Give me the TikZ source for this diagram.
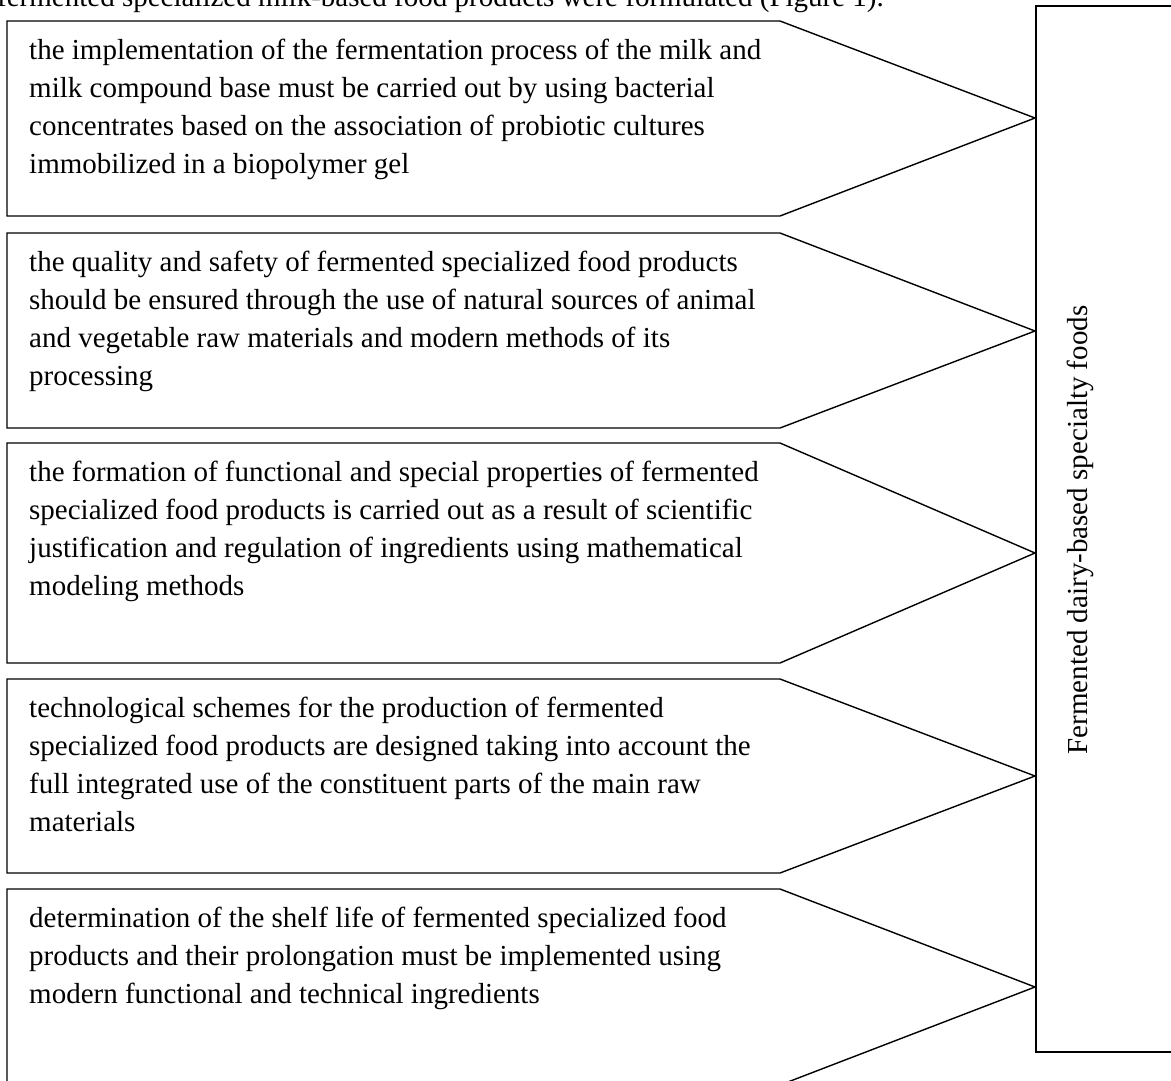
\documentclass[tikz,border=0pt]{standalone}
\usepackage{fontspec}
\setmainfont{Liberation Serif}
\begin{document}
\begin{tikzpicture}[x=1pt,y=-1pt,
  outline/.style={draw=black,line width=1.4pt,line join=miter},
  bodytext/.style={anchor=north west,inner sep=0pt,align=left,
    font=\fontsize{29}{38}\selectfont},
  sidetext/.style={anchor=base,inner sep=0pt,rotate=90,
    font=\fontsize{29}{38}\selectfont}]
\useasboundingbox (0,0) rectangle (1171,1080);
% header line (cut by the top edge)
\node[anchor=base west,inner sep=0pt,font=\fontsize{29}{38}\selectfont] (head) at (-3,6)
  {fermented specialized milk-based food products were formulated (Figure 1).};
% right box
\draw[outline] (1036,6) rectangle (1180,1052);
\node[sidetext] (side) at (1087,530) {Fermented dairy-based specialty foods};
% arrow shapes
\foreach \t/\m/\b [count=\i] in {21/118/216, 233/331/428, 443/553/663, 679/776/873, 889/987/1085}{
  \draw[outline] (7,\t) -- (780,\t) -- (1035,\m) -- (780,\b) -- (7,\b) -- cycle;
}
\node[bodytext] (t1) at (29,39) {the implementation of the fermentation process of the milk and\\
milk compound base must be carried out by using bacterial\\
concentrates based on the association of probiotic cultures\\
immobilized in a biopolymer gel};
\node[bodytext] (t2) at (29,251) {the quality and safety of fermented specialized food products\\
should be ensured through the use of natural sources of animal\\
and vegetable raw materials and modern methods of its\\
processing};
\node[bodytext] (t3) at (29,461) {the formation of functional and special properties of fermented\\
specialized food products is carried out as a result of scientific\\
justification and regulation of ingredients using mathematical\\
modeling methods};
\node[bodytext] (t4) at (29,697) {technological schemes for the production of fermented\\
specialized food products are designed taking into account the\\
full integrated use of the constituent parts of the main raw\\
materials};
\node[bodytext] (t5) at (29,907) {determination of the shelf life of fermented specialized food\\
products and their prolongation must be implemented using\\
modern functional and technical ingredients};
\end{tikzpicture}
\end{document}
